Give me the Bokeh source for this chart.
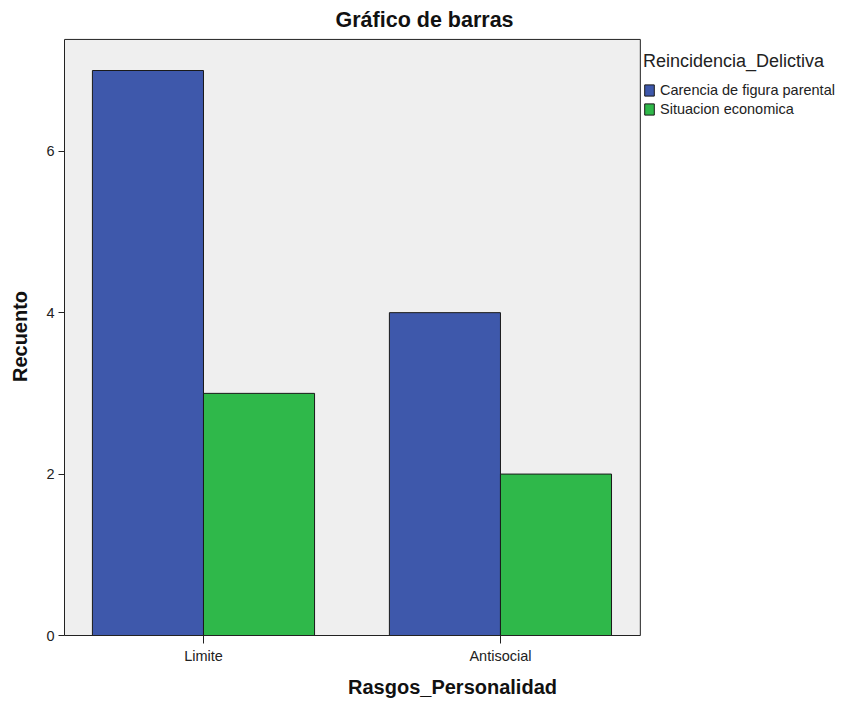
from bokeh.plotting import figure
from bokeh.models import ColumnDataSource, Range1d, FixedTicker, Legend, LegendItem, BoxAnnotation
from bokeh.transform import dodge
from bokeh.embed import file_html
from bokeh.resources import INLINE

categories = ["Limite", "Antisocial"]
series_names = ["Carencia de figura parental", "Situacion economica"]
carencia = [7, 4]
situacion = [3, 2]
y_ticks = [0, 2, 4, 6]
colors = ["#3e58ab", "#2fb84a"]

FONT = "Liberation Sans"

# panel extents (data units) of the grey plotting box
X_LO, X_HI = -0.468, 1.471
Y_LO, Y_HI = 0, 7.385

pos = list(range(len(categories)))
src = ColumnDataSource(dict(x=pos, carencia=carencia, situacion=situacion))

p = figure(width=844, height=704, output_backend="svg", toolbar_location=None,
           x_range=Range1d(X_LO, 2.145), y_range=Range1d(Y_LO, 7.409),
           min_border_left=64, min_border_right=4, min_border_top=37,
           min_border_bottom=69, title="Gráfico de barras")

p.title.align = "left"
p.title.offset = 271
p.title.standoff = 11
p.title.text_font = FONT
p.title.text_font_size = "21.5px"
p.title.text_font_style = "bold"
p.title.text_color = "#111111"

p.background_fill_color = "white"
p.border_fill_color = "white"
p.outline_line_color = None
p.xgrid.visible = False
p.ygrid.visible = False

box = BoxAnnotation(left=X_LO, right=X_HI, bottom=Y_LO, top=Y_HI,
                    fill_color="#efefef", fill_alpha=1.0,
                    line_color="#222222", line_width=1, line_alpha=1.0, level="underlay")
p.add_layout(box)

bw = 0.374
r1 = p.vbar(x=dodge("x", -bw / 2, range=p.x_range), top="carencia", width=bw, source=src,
            fill_color=colors[0], line_color="#1a1a1a", line_width=1)
r2 = p.vbar(x=dodge("x", bw / 2, range=p.x_range), top="situacion", width=bw, source=src,
            fill_color=colors[1], line_color="#1a1a1a", line_width=1)

# axes
p.xaxis.ticker = FixedTicker(ticks=pos)
p.xaxis.major_label_overrides = {i: c for i, c in enumerate(categories)}
p.xaxis.minor_tick_line_color = None
p.xaxis.major_tick_out = 8
p.xaxis.major_tick_in = 0
p.xaxis.bounds = (X_LO, X_HI)
p.xaxis.axis_label = "Rasgos_Personalidad"
p.yaxis.ticker = FixedTicker(ticks=y_ticks)
p.yaxis.minor_tick_line_color = None
p.yaxis.major_tick_out = 6
p.yaxis.major_tick_in = 0
p.yaxis.bounds = (Y_LO, Y_HI)
p.yaxis.axis_label = "Recuento"
for ax in (p.xaxis[0], p.yaxis[0]):
    ax.axis_line_color = "#222222"
    ax.major_tick_line_color = "#222222"
    ax.major_label_text_font = FONT
    ax.major_label_text_font_size = "14.5px"
    ax.major_label_text_color = "#222222"
    ax.axis_label_text_font = FONT
    ax.axis_label_text_font_size = "20px"
    ax.axis_label_text_font_style = "bold"
    ax.axis_label_text_color = "#111111"
p.xaxis.major_label_standoff = 4
p.xaxis.axis_label_standoff = 9
p.yaxis.major_label_standoff = 4
p.yaxis.axis_label_standoff = 12

legend = Legend(items=[LegendItem(label=series_names[0], renderers=[r1]),
                       LegendItem(label=series_names[1], renderers=[r2])],
                title="Reincidencia_Delictiva",
                title_text_font=FONT, title_text_font_size="18px",
                title_text_font_style="normal", title_text_color="#222222",
                title_standoff=10,
                location=(579, 518), padding=2, margin=0, spacing=3,
                glyph_width=12, glyph_height=14, label_height=14, label_standoff=5,
                label_text_font=FONT, label_text_font_size="14.5px",
                label_text_color="#222222", border_line_color=None,
                background_fill_alpha=0)
p.add_layout(legend)

open("out.html", "w").write(file_html(p, INLINE))
